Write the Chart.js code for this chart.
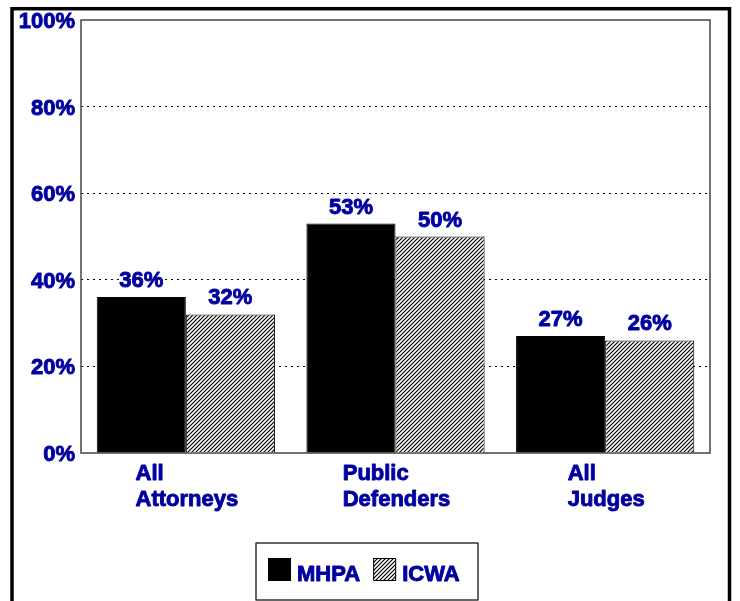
<!DOCTYPE html>
<html>
<head>
<meta charset="utf-8">
<script src="https://cdn.jsdelivr.net/npm/chart.js@4.4.0/dist/chart.umd.min.js"></script>
<style>
  html, body { margin: 0; padding: 0; background: #fff; }
  #wrap { position: relative; width: 740px; height: 601px; }
</style>
</head>
<body>
<div id="wrap"><canvas id="myChart" width="740" height="601"></canvas></div>
<script>
const categories = [['All', 'Attorneys'], ['Public', 'Defenders'], ['All', 'Judges']];
const mhpaValues = [36, 53, 27];
const icwaValues = [32, 50, 26];
const seriesNames = ['MHPA', 'ICWA'];

const BLUE = '#0000a0';
const FONT = 'bold 22px "Liberation Sans", Arial, Helvetica, sans-serif';

const ctx = document.getElementById('myChart').getContext('2d');

function makeHatch() {
  const c = document.createElement('canvas');
  c.width = 4; c.height = 4;
  const g = c.getContext('2d');
  g.fillStyle = '#fff';
  g.fillRect(0, 0, 4, 4);
  g.strokeStyle = '#000';
  g.lineWidth = 1.2;
  g.beginPath();
  g.moveTo(-1, 5); g.lineTo(5, -1);
  g.moveTo(-1, 1); g.lineTo(1, -1);
  g.moveTo(3, 5); g.lineTo(5, 3);
  g.stroke();
  return ctx.createPattern(c, 'repeat');
}
const hatch = makeHatch();

// heavy text: fill plus a thin stroke of the same colour
function boldText(c, t, x, y) {
  c.fillText(t, x, y);
  c.strokeText(t, x, y);
}

// outer frame, plot frame, bar labels, category labels, legend box
const decorations = {
  id: 'decorations',
  beforeDraw(chart) {
    const c = chart.ctx;
    c.save();
    c.strokeStyle = '#000';
    c.lineWidth = 3.5;
    c.strokeRect(12, 8.7, 717.5, 620);
    c.restore();
  },
  beforeDatasetsDraw(chart) {
    const a = chart.chartArea, c = chart.ctx;
    c.save();
    c.strokeStyle = '#444';
    c.lineWidth = 1.5;
    c.strokeRect(a.left, a.top, a.right - a.left, a.bottom - a.top);
    c.restore();
  },
  afterDatasetsDraw(chart) {
    const c = chart.ctx;
    c.save();
    c.font = FONT;
    c.fillStyle = BLUE;
    c.strokeStyle = BLUE;
    c.lineWidth = 0.9;
    c.lineJoin = 'round';
    c.textAlign = 'center';
    c.textBaseline = 'alphabetic';
    chart.data.datasets.forEach((ds, i) => {
      chart.getDatasetMeta(i).data.forEach((bar, j) => {
        boldText(c, ds.data[j] + '%', bar.x, bar.y - 10);
      });
    });

    // category labels: block centred on the tick, lines left aligned
    const xs = chart.scales.x, a = chart.chartArea;
    c.textAlign = 'left';
    chart.data.labels.forEach((lines, i) => {
      const w = Math.max(...lines.map(t => c.measureText(t).width));
      const x0 = xs.getPixelForValue(i) - w / 2 + 1;
      lines.forEach((t, k) => boldText(c, t, x0, a.bottom + 27 + k * 26));
    });

    // legend
    const lx = 256, ly = 543, lw = 222, lh = 57;
    c.strokeStyle = '#333';
    c.lineWidth = 1.5;
    c.strokeRect(lx, ly, lw, lh);
    let x = 268;
    chart.data.datasets.forEach((ds) => {
      c.fillStyle = ds.backgroundColor;
      c.fillRect(x, 558, 23, 23);
      c.strokeStyle = '#000';
      c.lineWidth = 1;
      c.strokeRect(x + 0.5, 558.5, 22, 22);
      c.fillStyle = BLUE;
      c.strokeStyle = BLUE;
      c.lineWidth = 0.9;
      boldText(c, ds.label, x + 29, 581);
      x += 29 + c.measureText(ds.label).width + 13;
    });
    c.restore();
  }
};

new Chart(ctx, {
  type: 'bar',
  data: {
    labels: categories,
    datasets: [
      { label: seriesNames[0], data: mhpaValues, backgroundColor: '#000', borderColor: '#000', borderWidth: 1 },
      { label: seriesNames[1], data: icwaValues, backgroundColor: hatch, borderColor: '#000', borderWidth: 1 }
    ]
  },
  options: {
    responsive: false,
    animation: false,
    events: [],
    layout: { padding: { left: 0, top: 20, right: 30, bottom: 148 } },
    plugins: { legend: { display: false }, tooltip: { enabled: false } },
    datasets: { bar: { categoryPercentage: 0.85, barPercentage: 1 } },
    scales: {
      x: {
        grid: { display: false, drawTicks: false },
        border: { display: false },
        ticks: { display: false },
        afterFit(scale) { scale.height = 0; }
      },
      y: {
        min: 0,
        max: 100,
        ticks: {
          stepSize: 20,
          padding: 6,
          labelOffset: 2,
          color: BLUE,
          textStrokeColor: BLUE,
          textStrokeWidth: 0.9,
          font: { family: '"Liberation Sans", Arial, Helvetica, sans-serif', size: 22, weight: 'bold' },
          callback: v => v + '%'
        },
        grid: {
          drawTicks: false,
          color: c => (c.tick && (c.tick.value === 0 || c.tick.value === 100)) ? 'rgba(0,0,0,0)' : '#000',
          lineWidth: 1
        },
        border: { display: false, dash: [2, 4] },
        afterFit(scale) { scale.width = 81; }
      }
    }
  },
  plugins: [decorations]
});
</script>
</body>
</html>
